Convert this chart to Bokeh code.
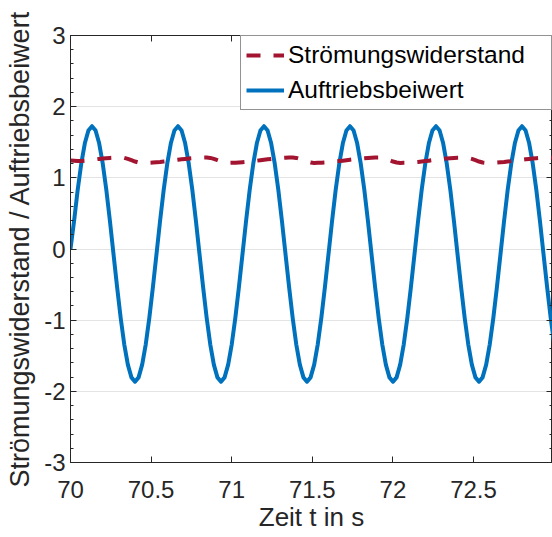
from bokeh.plotting import figure
from bokeh.models import (Range1d, LinearAxis, FixedTicker, SingleIntervalTicker,
                          NumeralTickFormatter, Legend, LegendItem)
from bokeh.embed import file_html
from bokeh.resources import INLINE

# ---- data ----
t = [
    70.0000, 70.0222, 70.0445, 70.0667, 70.0889, 70.1111, 70.1334, 70.1556,
    70.1778, 70.2001, 70.2223, 70.2445, 70.2667, 70.2890, 70.3112, 70.3334,
    70.3557, 70.3779, 70.4001, 70.4224, 70.4446, 70.4668, 70.4890, 70.5113,
    70.5335, 70.5557, 70.5780, 70.6002, 70.6224, 70.6446, 70.6669, 70.6891,
    70.7113, 70.7336, 70.7558, 70.7780, 70.8002, 70.8225, 70.8447, 70.8669,
    70.8892, 70.9114, 70.9336, 70.9558, 70.9781, 71.0003, 71.0225, 71.0448,
    71.0670, 71.0892, 71.1115, 71.1337, 71.1559, 71.1781, 71.2004, 71.2226,
    71.2448, 71.2671, 71.2893, 71.3115, 71.3337, 71.3560, 71.3782, 71.4004,
    71.4227, 71.4449, 71.4671, 71.4893, 71.5116, 71.5338, 71.5560, 71.5783,
    71.6005, 71.6227, 71.6449, 71.6672, 71.6894, 71.7116, 71.7339, 71.7561,
    71.7783, 71.8005, 71.8228, 71.8450, 71.8672, 71.8895, 71.9117, 71.9339,
    71.9562, 71.9784, 72.0006, 72.0228, 72.0451, 72.0673, 72.0895, 72.1118,
    72.1340, 72.1562, 72.1784, 72.2007, 72.2229, 72.2451, 72.2674, 72.2896,
    72.3118, 72.3340, 72.3563, 72.3785, 72.4007, 72.4230, 72.4452, 72.4674,
    72.4896, 72.5119, 72.5341, 72.5563, 72.5786, 72.6008, 72.6230, 72.6453,
    72.6675, 72.6897, 72.7119, 72.7342, 72.7564, 72.7786, 72.8009, 72.8231,
    72.8453, 72.8675, 72.8898, 72.9120, 72.9342, 72.9565, 72.9787, 73.0009,
]

auftrieb = [
    0.000, 0.395, 0.828, 1.199, 1.485, 1.664, 1.725, 1.664, 1.485, 1.199, 0.828, 0.395,
    -0.070, -0.535, -0.968, -1.339, -1.625, -1.804, -1.865, -1.804, -1.625, -1.339, -0.968, -0.535,
    -0.070, 0.395, 0.828, 1.199, 1.485, 1.664, 1.725, 1.664, 1.485, 1.199, 0.828, 0.395,
    -0.070, -0.535, -0.968, -1.339, -1.625, -1.804, -1.865, -1.804, -1.625, -1.339, -0.968, -0.535,
    -0.070, 0.395, 0.828, 1.199, 1.485, 1.664, 1.725, 1.664, 1.485, 1.199, 0.828, 0.395,
    -0.070, -0.535, -0.968, -1.339, -1.625, -1.804, -1.865, -1.804, -1.625, -1.339, -0.968, -0.535,
    -0.070, 0.395, 0.828, 1.199, 1.485, 1.664, 1.725, 1.664, 1.485, 1.199, 0.828, 0.395,
    -0.070, -0.535, -0.968, -1.339, -1.625, -1.804, -1.865, -1.804, -1.625, -1.339, -0.968, -0.535,
    -0.070, 0.395, 0.828, 1.199, 1.485, 1.664, 1.725, 1.664, 1.485, 1.199, 0.828, 0.395,
    -0.070, -0.535, -0.968, -1.339, -1.625, -1.804, -1.865, -1.804, -1.625, -1.339, -0.968, -0.535,
    -0.070, 0.395, 0.828, 1.199, 1.485, 1.664, 1.725, 1.664, 1.485, 1.199, 0.828, 0.395,
    -0.070, -0.535, -0.968, -1.339,
]

widerstand = [
    1.245, 1.240, 1.236, 1.238, 1.241, 1.248, 1.254, 1.260, 1.266, 1.272, 1.276, 1.280,
    1.283, 1.284, 1.285, 1.280, 1.266, 1.248, 1.229, 1.215, 1.210, 1.211, 1.212, 1.215,
    1.219, 1.223, 1.229, 1.235, 1.241, 1.248, 1.254, 1.260, 1.266, 1.272, 1.276, 1.280,
    1.283, 1.284, 1.285, 1.280, 1.266, 1.248, 1.229, 1.215, 1.210, 1.211, 1.212, 1.215,
    1.219, 1.223, 1.229, 1.235, 1.241, 1.248, 1.254, 1.260, 1.266, 1.272, 1.276, 1.280,
    1.283, 1.284, 1.285, 1.280, 1.266, 1.248, 1.229, 1.215, 1.210, 1.211, 1.212, 1.215,
    1.219, 1.223, 1.229, 1.235, 1.241, 1.248, 1.254, 1.260, 1.266, 1.272, 1.276, 1.280,
    1.283, 1.284, 1.285, 1.280, 1.266, 1.248, 1.229, 1.215, 1.210, 1.211, 1.212, 1.215,
    1.219, 1.223, 1.229, 1.235, 1.241, 1.248, 1.254, 1.260, 1.266, 1.272, 1.276, 1.280,
    1.283, 1.284, 1.285, 1.280, 1.266, 1.248, 1.229, 1.215, 1.210, 1.211, 1.212, 1.215,
    1.219, 1.223, 1.229, 1.235, 1.241, 1.248, 1.254, 1.260, 1.266, 1.272, 1.276, 1.280,
    1.283, 1.284, 1.285, 1.280,
]

x_ticks = [70, 70.5, 71, 71.5, 72, 72.5]
x_label = "Zeit t in s"
y_label = "Strömungswiderstand / Auftriebsbeiwert"
name_drag = "Strömungswiderstand"
name_lift = "Auftriebsbeiwert"

# ---- styling ----
FONT = "Liberation Sans"
AX = "#262626"
BLUE = "#0072BD"
RED = "#A2142F"

p = figure(width=552, height=537,
           x_range=Range1d(70, 72.99), y_range=Range1d(-3, 3),
           output_backend="svg", toolbar_location=None,
           min_border_left=70, min_border_right=0,
           min_border_top=35, min_border_bottom=75)
p.background_fill_color = "white"
p.border_fill_color = "white"
p.outline_line_color = AX
p.outline_line_width = 1

def style_axis(ax, labels=True):
    ax.axis_line_color = AX
    ax.axis_line_width = 1
    ax.major_tick_line_color = AX
    ax.minor_tick_line_color = AX
    ax.major_tick_in = 6
    ax.major_tick_out = 0
    ax.minor_tick_in = 3
    ax.minor_tick_out = 0
    ax.major_label_text_font = FONT
    ax.major_label_text_color = AX
    ax.axis_label_text_font = FONT
    ax.axis_label_text_color = AX
    ax.axis_label_text_font_style = "normal"
    if labels:
        ax.major_label_text_font_size = "24px"
    else:
        ax.major_label_text_font_size = "0px"
        ax.major_label_standoff = 0

xa = p.xaxis[0]
xa.ticker = FixedTicker(ticks=x_ticks)
xa.formatter = NumeralTickFormatter(format="0.[0]")
style_axis(xa)
xa.major_label_standoff = 18
xa.axis_label = x_label
xa.axis_label_text_font_size = "26px"
xa.axis_label_standoff = 1

ya = p.yaxis[0]
ya.ticker = SingleIntervalTicker(interval=1, num_minor_ticks=5)
ya.formatter = NumeralTickFormatter(format="0")
style_axis(ya)
ya.major_label_standoff = 5
ya.axis_label = y_label
ya.axis_label_text_font_size = "27px"
ya.axis_label_standoff = 6

top = LinearAxis(ticker=FixedTicker(ticks=x_ticks))
style_axis(top, labels=False)
p.add_layout(top, "above")

right = LinearAxis(ticker=SingleIntervalTicker(interval=1, num_minor_ticks=5))
style_axis(right, labels=False)
p.add_layout(right, "right")

p.xgrid.visible = False
p.ygrid.ticker = SingleIntervalTicker(interval=1)
p.ygrid.grid_line_color = "#e3e3e3"
p.ygrid.grid_line_width = 1

r_lift = p.line(t, auftrieb, line_color=BLUE, line_width=4, line_join="round")
r_drag = p.line(t, widerstand, line_color=RED, line_width=4, line_dash="14 13",
                line_join="round")

legend = Legend(items=[LegendItem(label=name_drag, renderers=[r_drag]),
                       LegendItem(label=name_lift, renderers=[r_lift])],
                location="top_right", margin=0, padding=5, spacing=7,
                label_height=28, glyph_height=28, glyph_width=38,
                label_standoff=4, label_width=258,
                label_text_font=FONT, label_text_font_size="24.5px",
                label_text_color="#000000",
                border_line_color=AX, border_line_width=1,
                background_fill_color="white", background_fill_alpha=1)
p.add_layout(legend)

open("out.html", "w").write(file_html(p, INLINE))
